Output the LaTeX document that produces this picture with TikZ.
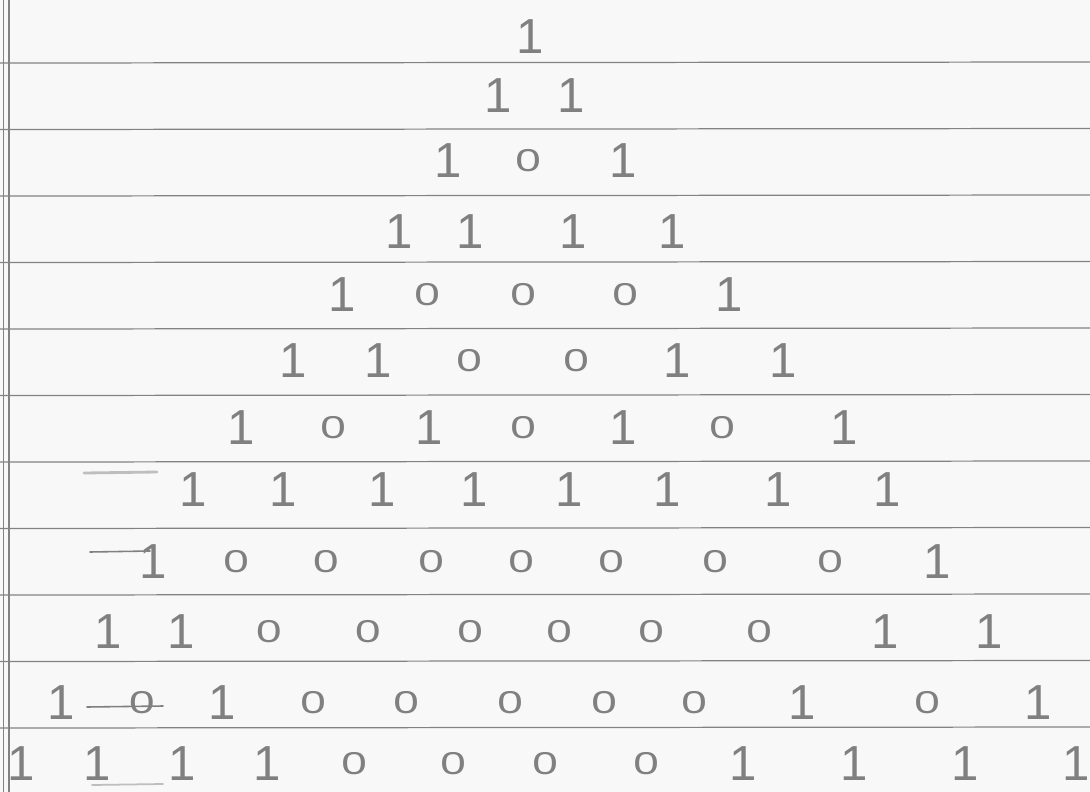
\documentclass[tikz,border=0pt]{standalone}
\usepackage{fontspec}
\setmainfont{Liberation Sans}
\newfontfamily\zerofont[FakeStretch=1.45]{Liberation Sans}
\usepackage{xcolor}
\usepackage{tikz}
\definecolor{pen}{RGB}{128,128,128}
\definecolor{rule}{RGB}{130,130,130}
\definecolor{paper}{RGB}{248,248,248}
\definecolor{smudge}{RGB}{190,190,190}

\begin{document}
\begin{tikzpicture}[
  x=0.02cm, y=-0.02cm,
  d1/.style={text=pen, inner sep=0pt, font=\fontsize{28}{28}\selectfont},
  d0/.style={text=pen, inner sep=0pt, font=\zerofont\fontsize{18}{18}\selectfont},
  ruled/.style={draw=rule, line width=0.7pt},
  strike/.style={draw=pen, line width=0.9pt, line cap=round},
  faint/.style={draw=smudge, line width=1.6pt, line cap=round}
]
\fill[paper] (0,0) rectangle (1090,792);
\useasboundingbox (0,0) rectangle (1090,792);
% ruled paper
\foreach \y in {63,129.5,196,262.5,329,395.5,462,528.5,595,661.5,728}
  \draw[ruled] (0,\y) -- (1090,\y-1);
\draw[ruled] (3.5,0) -- (3.5,792);
\draw[ruled] (9,0) -- (9,792);
% rows of the triangle, mod 2
\foreach \x/\d [count=\i] in {530/1} \node[d\d] (r0c\i) at (\x,37) {\d};
\foreach \x/\d [count=\i] in {498/1,571/1} \node[d\d] (r1c\i) at (\x,96) {\d};
\foreach \x/\d [count=\i] in {448/1,528/0,623/1} \node[d\d] (r2c\i) at (\x,161) {\d};
\foreach \x/\d [count=\i] in {399/1,470/1,573/1,672/1} \node[d\d] (r3c\i) at (\x,232) {\d};
\foreach \x/\d [count=\i] in {342/1,427/0,523/0,625/0,729/1} \node[d\d] (r4c\i) at (\x,295) {\d};
\foreach \x/\d [count=\i] in {293/1,378/1,469/0,576/0,677/1,783/1} \node[d\d] (r5c\i) at (\x,361) {\d};
\foreach \x/\d [count=\i] in {241/1,333/0,429/1,523/0,623/1,722/0,844/1} \node[d\d] (r6c\i) at (\x,428) {\d};
\foreach \x/\d [count=\i] in {193/1,283/1,382/1,474/1,569/1,667/1,778/1,887/1} \node[d\d] (r7c\i) at (\x,490) {\d};
\foreach \x/\d [count=\i] in {153/1,236/0,326/0,431/0,521/0,611/0,715/0,830/0,937/1} \node[d\d] (r8c\i) at (\x,562) {\d};
\foreach \x/\d [count=\i] in {108/1,181/1,269/0,368/0,470/0,559/0,651/0,759/0,885/1,989/1} \node[d\d] (r9c\i) at (\x,632) {\d};
\foreach \x/\d [count=\i] in {61/1,142/0,222/1,313/0,406/0,510/0,604/0,694/0,802/1,927/0,1038/1} \node[d\d] (r10c\i) at (\x,703) {\d};
\foreach \x/\d [count=\i] in {21/1,97/1,182/1,267/1,354/0,453/0,545/0,646/0,743/1,854/1,965/1,1076/1} \node[d\d] (r11c\i) at (\x,764) {\d};
% crossed-out marks
\draw[faint] (84,473) -- (157,472);
\draw[strike] (90,552) -- (150,551);
\draw[strike] (87,707) -- (163,706);
\draw[faint, line width=1pt] (92,785) -- (163,784);
\end{tikzpicture}
\end{document}
